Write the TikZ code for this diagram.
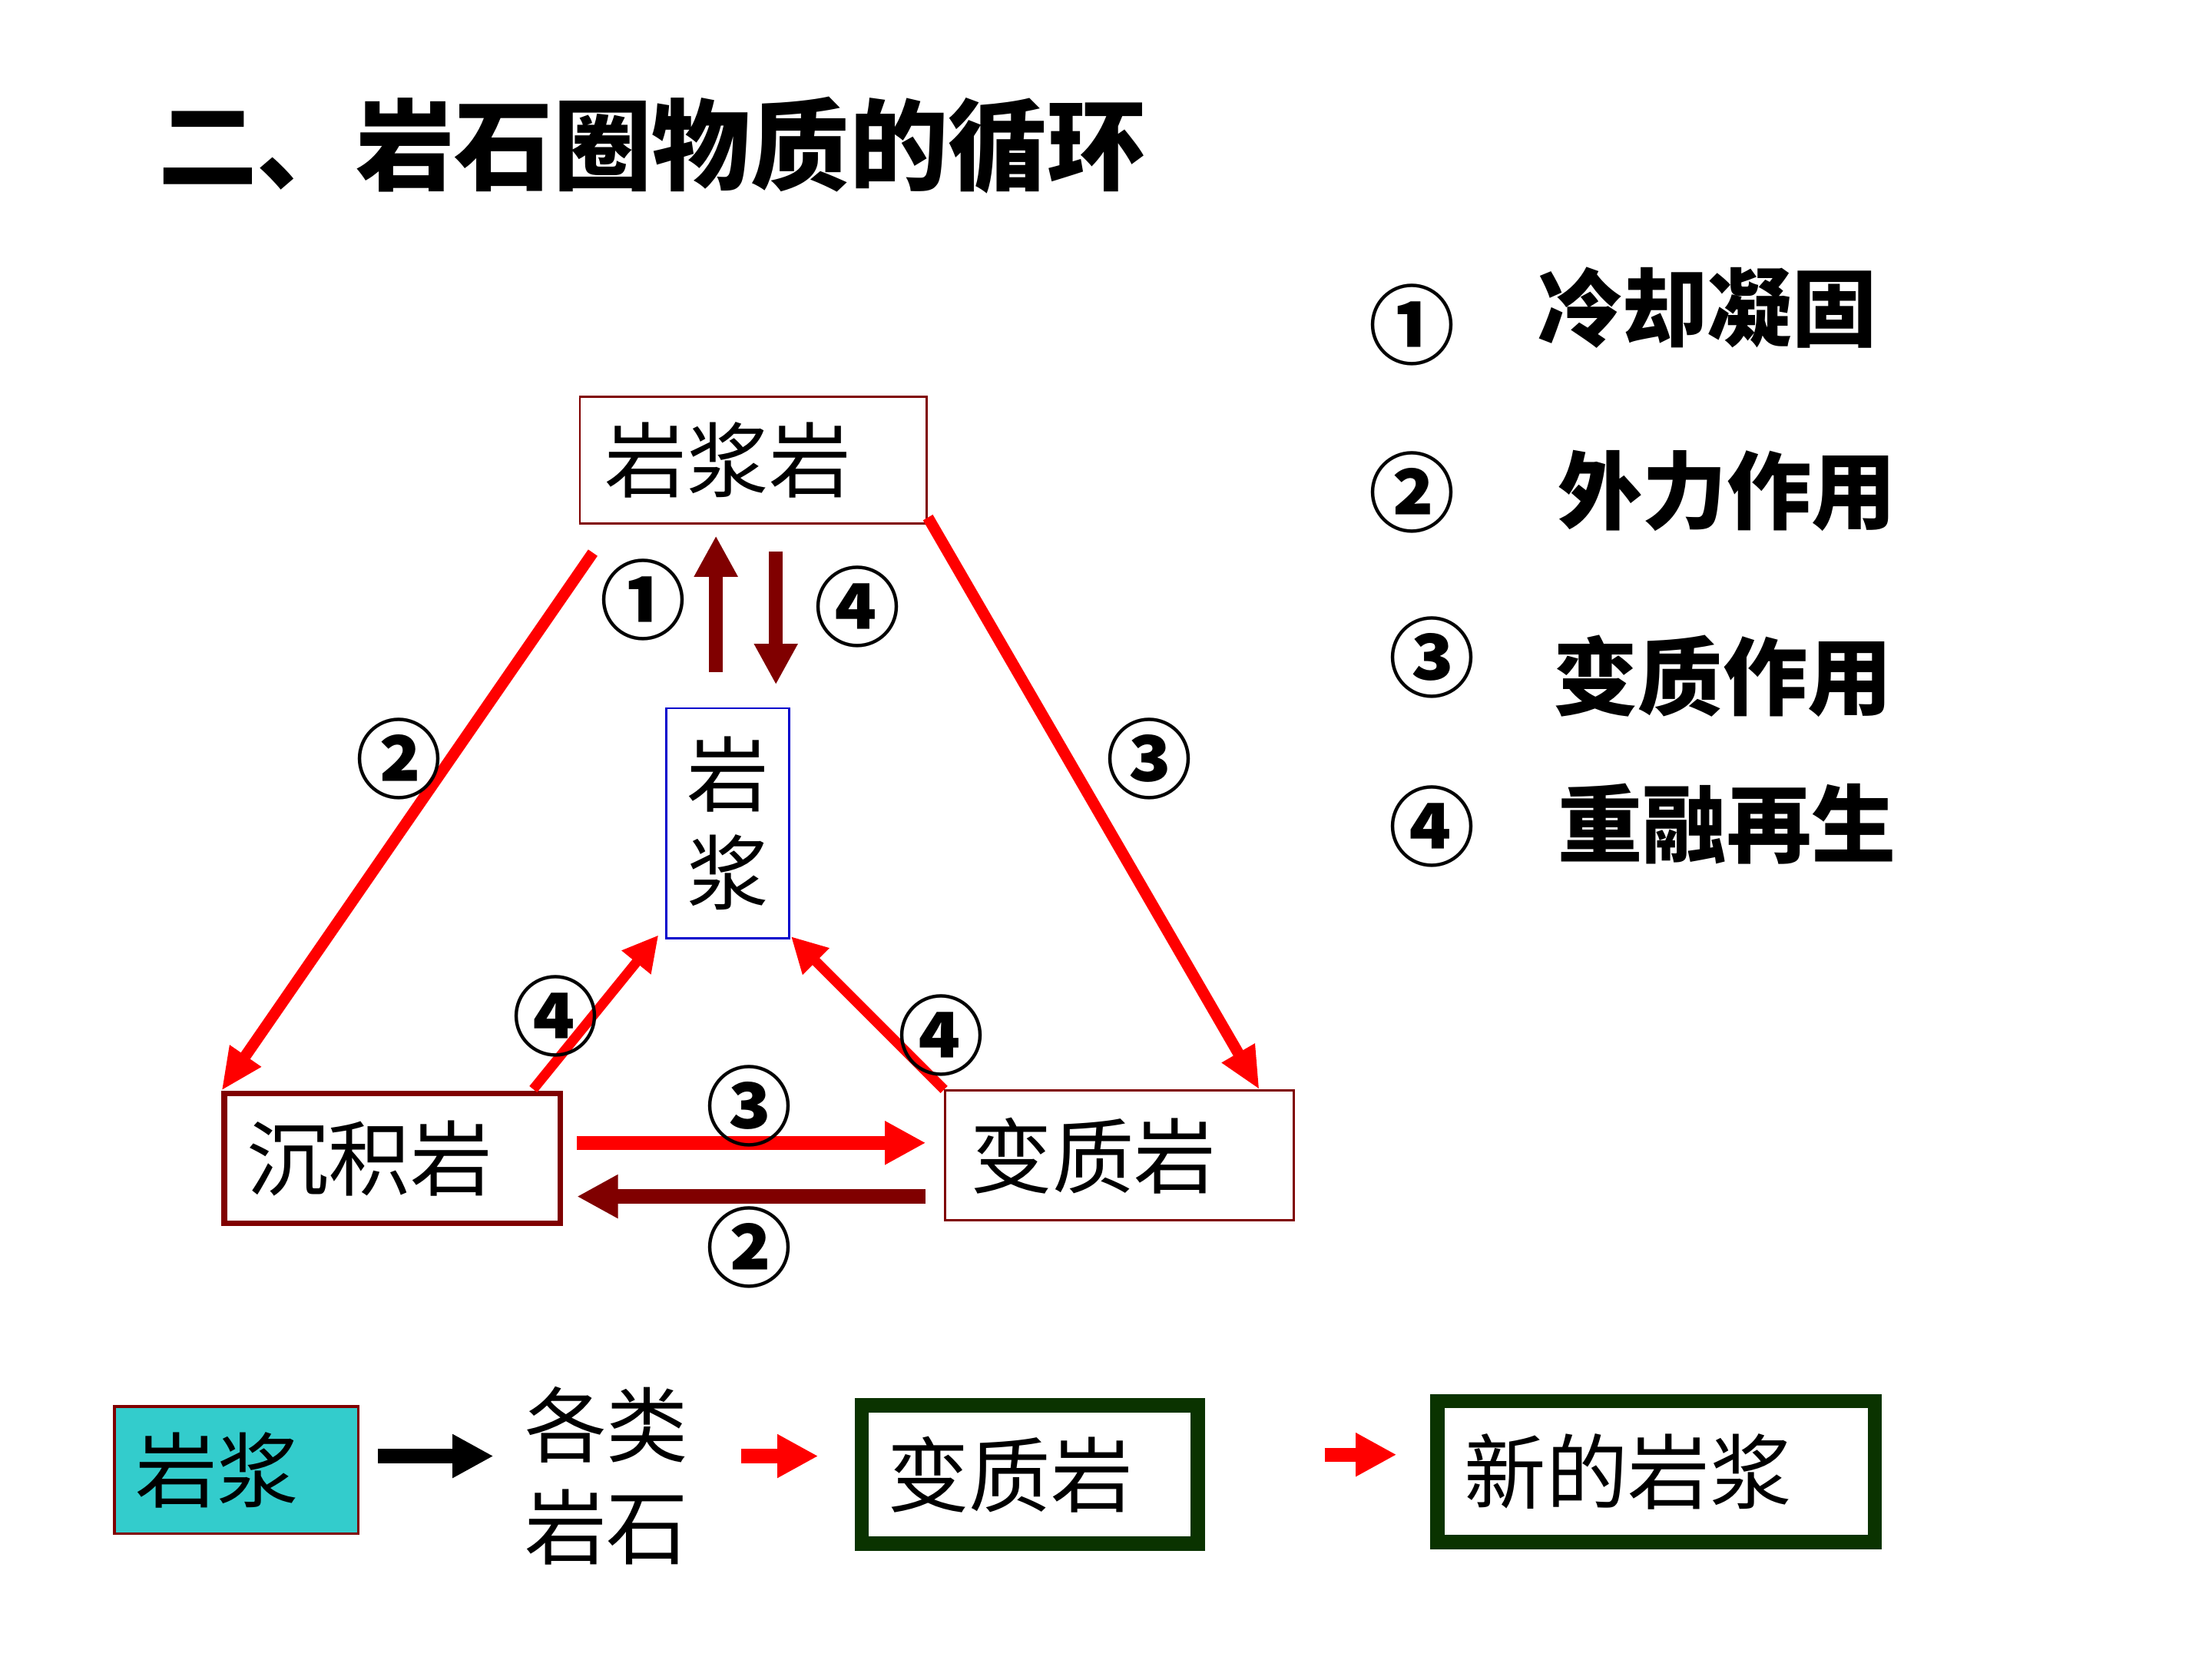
\documentclass[tikz,border=0pt]{standalone}
\usepackage{fontspec}
\setmainfont{Noto Sans CJK SC}
\usetikzlibrary{arrows.meta}
\definecolor{dkred}{HTML}{800000}
\definecolor{boxblue}{HTML}{0000CC}
\definecolor{magcyan}{HTML}{33CCCC}
\definecolor{dkgreen}{HTML}{0A3300}

\begin{document}
\begin{tikzpicture}[x=1pt,y=-1pt,
  rock/.style={draw=dkred,line width=1.5pt,inner xsep=18pt,inner ysep=0pt,align=left,
    font=\fontsize{58}{70}\selectfont},
  num/.style={inner sep=0pt,font=\bfseries\fontsize{61}{61}\selectfont},
  leg/.style={anchor=west,inner sep=0pt,font=\bfseries\fontsize{60}{60}\selectfont},
  redln/.style={red,line width=8pt,-{Triangle[width=25pt,length=30pt]}},
  redsm/.style={red,line width=7pt,-{Triangle[width=25pt,length=25pt]}},
  block/.style={line width=10pt,-{Triangle[width=29pt,length=29pt]}}]
\fill[white] (0,0) rectangle (1568,1176);
\useasboundingbox (0,0) rectangle (1568,1176);

% title
\node[anchor=west,inner sep=0pt,font=\bfseries\fontsize{70}{70}\selectfont] (title) at (112,103) {二、岩石圈物质的循环};

% the cycle
\node[rock,text width=210pt,minimum height=90pt] (yjy) at (534,326) {岩浆岩};
\node[draw=boxblue,line width=1.5pt,minimum width=87pt,minimum height=163pt,inner sep=0pt,
  align=center,font=\fontsize{58}{70}\selectfont] (yj) at (516,583.5) {岩\\浆};
\node[rock,line width=4pt,inner xsep=16pt,text width=206pt,minimum height=92pt] (cjy) at (278,821) {沉积岩};
\node[rock,text width=211pt,minimum height=92pt] (bzy) at (793.5,819) {变质岩};

\draw[redln] ([shift={(10,20)}]yjy.south west) -- (cjy.north west);
\draw[redln] ([shift={(0,-5)}]yjy.south east) -- ([shift={(-25,0)}]bzy.north east);
\draw[block,dkred] ([shift={(-8.5,-25)}]yj.north) -- ([shift={(-26.5,8)}]yjy.south);
\draw[block,dkred] ([shift={(16,19)}]yjy.south) -- ([shift={(34,-16)}]yj.north);
\draw[redsm] ([shift={(-21,-1)}]cjy.north east) -- ([shift={(-5,-3)}]yj.south west);
\draw[redsm] (bzy.north west) -- ([shift={(0.5,-2)}]yj.south east);
\draw[block,red] ([shift={(10,-11)}]cjy.east) -- ([shift={(-13,-9)}]bzy.west);
\draw[block,dkred] ([shift={(-13,29)}]bzy.west) -- ([shift={(10,27)}]cjy.east);

\node[num] (n1) at (456,425) {①};
\node[num] (n4a) at (608,430) {④};
\node[num] (n2a) at (283,538) {②};
\node[num] (n3a) at (815,538) {③};
\node[num] (n4b) at (394,720) {④};
\node[num] (n4c) at (667,734) {④};
\node[num] (n3b) at (531,784) {③};
\node[num] (n2b) at (531,884) {②};

% legend
\node[num] (k1) at (1001,230) {①};
\node[num] (k2) at (1001,349) {②};
\node[num] (k3) at (1015,466) {③};
\node[num] (k4) at (1015,586) {④};
\node[leg] (t1) at (1090,218) {冷却凝固};
\node[leg] (t2) at (1104,348) {外力作用};
\node[leg] (t3) at (1101,479) {变质作用};
\node[leg] (t4) at (1104,584) {重融再生};

% bottom row
\node[rock,fill=magcyan,line width=2pt,inner xsep=15pt,text width=143pt,minimum height=90pt] (byj) at (167.5,1042) {岩浆};
\node[inner sep=0pt,align=center,font=\fontsize{58}{72}\selectfont] (gl) at (430,1046) {各类\\岩石};
\node[rock,draw=dkgreen,line width=10pt,text width=202pt,minimum height=98pt] (bzy2) at (730,1045) {变质岩};
\node[rock,draw=dkgreen,line width=10pt,inner xsep=19pt,text width=272pt,minimum height=100pt] (xyj) at (1174,1043) {新的岩浆};

\draw[block,black] ([shift={(13,-10)}]byj.east) -- ([shift={(-22,-14)}]gl.west);
\draw[block,red] ([shift={(37,-14)}]gl.east) -- ([shift={(-26,-13)}]bzy2.west);
\draw[block,red] ([shift={(85,-14)}]bzy2.east) -- ([shift={(-24,-12)}]xyj.west);
\end{tikzpicture}
\end{document}
